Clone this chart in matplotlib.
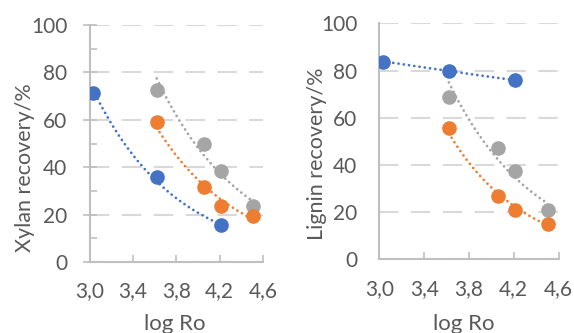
import numpy as np
import matplotlib
matplotlib.use("Agg")
import matplotlib.pyplot as plt
from matplotlib.ticker import MultipleLocator, FixedLocator, FixedFormatter

plt.rcParams['font.family'] = ['Lato', 'DejaVu Sans']

# ---- data ----
x_blue = [3.03, 3.62, 4.21]
x_four = [3.62, 4.06, 4.21, 4.51]

xylan_blue = [71.1, 35.7, 15.5]
xylan_orange = [59.2, 31.8, 23.7, 19.5]
xylan_gray = [72.6, 49.6, 38.6, 23.7]

lignin_blue = [83.8, 80.0, 75.8]
lignin_orange = [55.6, 26.8, 21.1, 15.2]
lignin_gray = [69.0, 47.2, 37.6, 21.1]

x_ticks = [3.0, 3.4, 3.8, 4.2, 4.6]
x_tick_labels = ["3,0", "3,4", "3,8", "4,2", "4,6"]
y_ticks = [0, 20, 40, 60, 80, 100]
y_tick_labels = ["0", "20", "40", "60", "80", "100"]

BLUE = "#4472C4"
ORANGE = "#ED7D31"
GRAY = "#A5A5A5"
TXT = "#595959"
AXC = "#BFBFBF"
GRID = "#D9D9D9"

W, H = 574, 333
fig = plt.figure(figsize=(W / 100, H / 100), dpi=100)
axL = fig.add_axes([0.156, 0.213, 0.302, 0.712])
axR = fig.add_axes([0.661, 0.221, 0.312, 0.709])

TICKFS = 15
LABFS = 15.5

def style(ax, cross_major):
    ax.set_xlim(3.0, 4.6)
    ax.set_ylim(0, 100)
    for s in ['top', 'right']:
        ax.spines[s].set_visible(False)
    for s in ['left', 'bottom']:
        ax.spines[s].set_color(AXC)
        ax.spines[s].set_linewidth(1.5)
    ax.xaxis.set_major_locator(FixedLocator(x_ticks))
    ax.xaxis.set_major_formatter(FixedFormatter(x_tick_labels))
    ax.yaxis.set_major_locator(FixedLocator(y_ticks))
    ax.yaxis.set_major_formatter(FixedFormatter(y_tick_labels))
    ax.tick_params(axis='x', direction='in', length=5, width=1.2, color=AXC,
                   labelsize=TICKFS, labelcolor=TXT, pad=14)
    if cross_major:
        ax.tick_params(axis='y', which='major', direction='inout', length=10, width=1.2,
                       color=AXC, labelsize=TICKFS, labelcolor=TXT, pad=11)
        ax.yaxis.set_minor_locator(MultipleLocator(10))
        ax.tick_params(axis='y', which='minor', direction='in', length=5, width=1.2,
                       color=AXC)
    else:
        ax.tick_params(axis='y', which='major', length=0, labelsize=TICKFS,
                       labelcolor=TXT, pad=16)
    ax.grid(axis='y', color=GRID, linewidth=1.5, linestyle=(0, (9.3, 6.0)))
    ax.set_axisbelow(True)

def series(ax, x, y, c):
    x = np.asarray(x, dtype=float)
    y = np.asarray(y, dtype=float)
    b, a = np.polyfit(x, np.log(y), 1)  # exponential trendline
    xs = np.linspace(x.min(), x.max(), 200)
    ax.plot(x, y, 'o', color=c, markersize=9.5, zorder=3)
    ax.plot(xs, np.exp(a + b * xs), color=c, lw=2.0,
            linestyle=(0, (0.01, 1.9)), dash_capstyle='round', zorder=4)

style(axL, True)
series(axL, x_blue, xylan_blue, BLUE)
series(axL, x_four, xylan_gray, GRAY)
series(axL, x_four, xylan_orange, ORANGE)

style(axR, False)
series(axR, x_blue, lignin_blue, BLUE)
series(axR, x_four, lignin_gray, GRAY)
series(axR, x_four, lignin_orange, ORANGE)

# axis titles (placed to match reference)
fig.text(25.5 / W, 1 - 168 / H, "Xylan recovery/%", rotation=90, ha='center',
         va='center', fontsize=LABFS, color=TXT)
fig.text(317 / W, 1 - 154 / H, "Lignin recovery/%", rotation=90, ha='center',
         va='center', fontsize=LABFS, color=TXT)
fig.text(175 / W, 1 - 330 / H, "log Ro", ha='center', va='baseline',
         fontsize=16, color=TXT)
fig.text(464 / W, 1 - 330 / H, "log Ro", ha='center', va='baseline',
         fontsize=16, color=TXT)

fig.savefig("out.png", dpi=100)
